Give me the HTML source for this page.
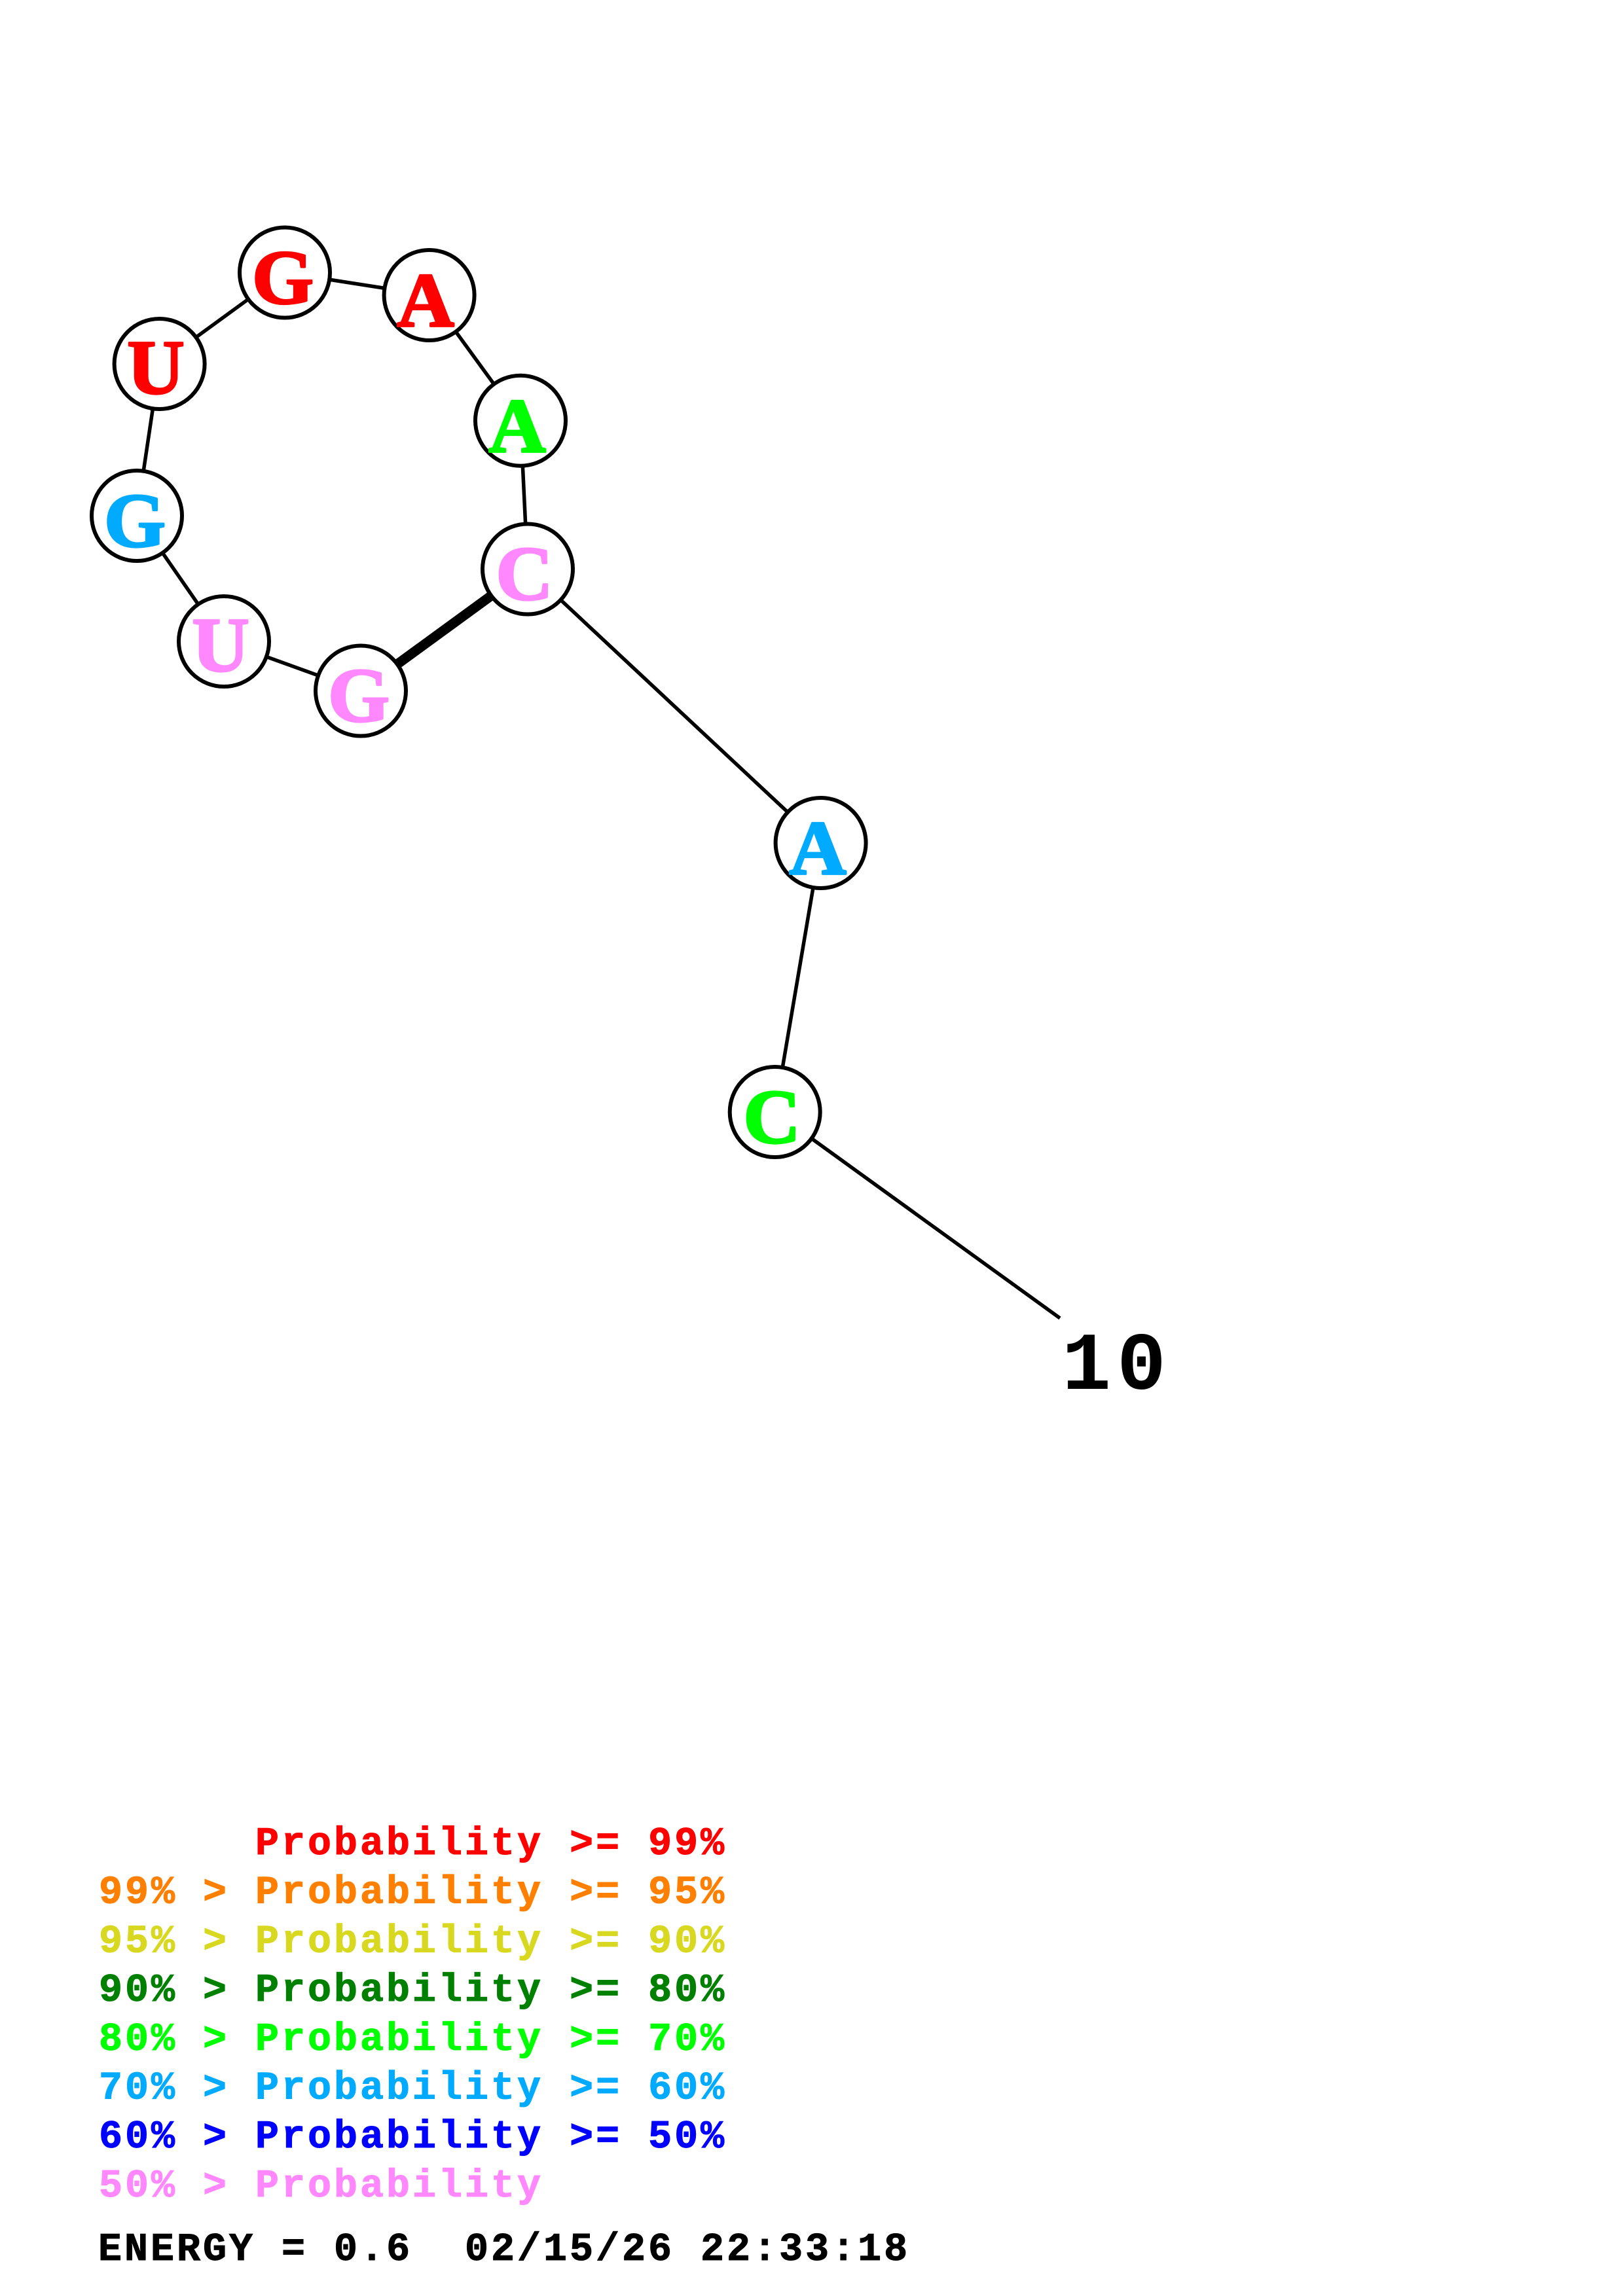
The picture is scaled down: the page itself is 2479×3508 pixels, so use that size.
<!DOCTYPE html>
<html><head><meta charset="utf-8"><style>
html,body{margin:0;padding:0;background:#fff}
svg{display:block}
.n{font-family:"Liberation Serif",serif;font-weight:bold;font-size:112px;text-anchor:middle;stroke-width:3;stroke-linejoin:round}
.l{font-family:"Liberation Mono",monospace;font-weight:bold;font-size:60px;stroke-width:1}
</style></head><body>
<svg xmlns="http://www.w3.org/2000/svg" width="2479" height="3508" viewBox="0 0 2479 3508">
<rect width="2479" height="3508" fill="#fff"/>
<g stroke="#000" stroke-width="5.5" fill="none">
<polyline points="655.6,451 435,416.5 243.6,556 209,788 342,980 551,1055.5"/>
<polyline points="655.6,451 795,642.7 806,869.5 1253.6,1288 1183.7,1699 1619,2014"/>
<line x1="551" y1="1055.5" x2="806" y2="869.5" stroke-width="15"/>
</g>
<g fill="#fff" stroke="#000" stroke-width="6">
<circle cx="435" cy="416.5" r="69"/><circle cx="655.6" cy="451" r="69"/><circle cx="243.6" cy="556" r="69"/><circle cx="795" cy="642.7" r="69"/><circle cx="209" cy="788" r="69"/><circle cx="806" cy="869.5" r="69"/><circle cx="342" cy="980" r="69"/><circle cx="551" cy="1055.5" r="69"/><circle cx="1253.6" cy="1288" r="69"/><circle cx="1183.7" cy="1699" r="69"/>
</g>
<g class="n">
<text transform="translate(432,463.5) scale(1.08,1.05)" fill="#f00" stroke="#f00">G</text>
<text transform="translate(650,498) scale(1.08,1.05)" fill="#f00" stroke="#f00">A</text>
<text transform="translate(238,601) scale(1.08,1.05)" fill="#f00" stroke="#f00">U</text>
<text transform="translate(790,690) scale(1.08,1.05)" fill="#0f0" stroke="#0f0">A</text>
<text transform="translate(206,835) scale(1.08,1.05)" fill="#0af" stroke="#0af">G</text>
<text transform="translate(801,916) scale(1.08,1.05)" fill="#f8f" stroke="#f8f">C</text>
<text transform="translate(337,1025) scale(1.08,1.05)" fill="#f8f" stroke="#f8f">U</text>
<text transform="translate(548,1102) scale(1.08,1.05)" fill="#f8f" stroke="#f8f">G</text>
<text transform="translate(1249,1335) scale(1.08,1.05)" fill="#0af" stroke="#0af">A</text>
<text transform="translate(1179,1746) scale(1.08,1.05)" fill="#0f0" stroke="#0f0">C</text>
</g>
<text x="1622" y="2122" font-family="'Liberation Mono',monospace" font-weight="bold" font-size="125" letter-spacing="9" fill="#000">10</text>
<g class="l">
<text x="390" y="2833" fill="#f00" stroke="#f00" letter-spacing="4">Probability &gt;= 99%</text>
<text x="151" y="2907.7" fill="#ff8000" stroke="#ff8000" letter-spacing="4">99%</text><text x="310" y="2907.7" fill="#ff8000" stroke="#ff8000">&gt;</text><text x="390" y="2907.7" fill="#ff8000" stroke="#ff8000" letter-spacing="4">Probability &gt;= 95%</text>
<text x="151" y="2982.4" fill="#d8d820" stroke="#d8d820" letter-spacing="4">95%</text><text x="310" y="2982.4" fill="#d8d820" stroke="#d8d820">&gt;</text><text x="390" y="2982.4" fill="#d8d820" stroke="#d8d820" letter-spacing="4">Probability &gt;= 90%</text>
<text x="151" y="3057.1" fill="#008000" stroke="#008000" letter-spacing="4">90%</text><text x="310" y="3057.1" fill="#008000" stroke="#008000">&gt;</text><text x="390" y="3057.1" fill="#008000" stroke="#008000" letter-spacing="4">Probability &gt;= 80%</text>
<text x="151" y="3131.8" fill="#0f0" stroke="#0f0" letter-spacing="4">80%</text><text x="310" y="3131.8" fill="#0f0" stroke="#0f0">&gt;</text><text x="390" y="3131.8" fill="#0f0" stroke="#0f0" letter-spacing="4">Probability &gt;= 70%</text>
<text x="151" y="3206.5" fill="#0af" stroke="#0af" letter-spacing="4">70%</text><text x="310" y="3206.5" fill="#0af" stroke="#0af">&gt;</text><text x="390" y="3206.5" fill="#0af" stroke="#0af" letter-spacing="4">Probability &gt;= 60%</text>
<text x="151" y="3281.2" fill="#00f" stroke="#00f" letter-spacing="4">60%</text><text x="310" y="3281.2" fill="#00f" stroke="#00f">&gt;</text><text x="390" y="3281.2" fill="#00f" stroke="#00f" letter-spacing="4">Probability &gt;= 50%</text>
<text x="151" y="3356" fill="#f8f" stroke="#f8f" letter-spacing="4">50%</text><text x="310" y="3356" fill="#f8f" stroke="#f8f">&gt;</text><text x="390" y="3356" fill="#f8f" stroke="#f8f" letter-spacing="4">Probability</text>
<text x="150" y="3453" fill="#000" stroke="#000" letter-spacing="4">ENERGY = 0.6</text><text x="710" y="3453" fill="#000" stroke="#000" letter-spacing="4">02/15/26 22:33:18</text>
</g>
</svg>
</body></html>
